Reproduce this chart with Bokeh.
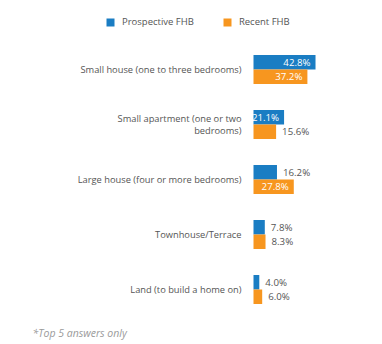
from bokeh.plotting import figure
from bokeh.models import ColumnDataSource, Range1d, Legend, LegendItem, Label
from bokeh.core.properties import value
from bokeh.embed import file_html
from bokeh.resources import INLINE

categories = [
    "Small house (one to three bedrooms)",
    "Small apartment (one or two\nbedrooms)",
    "Large house (four or more bedrooms)",
    "Townhouse/Terrace",
    "Land (to build a home on)",
]
prospective = [42.8, 21.1, 16.2, 7.8, 4.0]
recent = [37.2, 15.6, 27.8, 8.3, 6.0]
series_names = ["Prospective FHB", "Recent FHB"]
footnote = "*Top 5 answers only"

BLUE = "#1a7dc3"
ORANGE = "#f7961f"
GREY = "#555555"
FONT = "Open Sans"

W, H = 382, 344
x0_px = 253.0
px_per_unit = 1.449
unit_px = 55.0
top_center_px = 69.0

x_range = Range1d(-x0_px / px_per_unit, (W - x0_px) / px_per_unit)
y_range = Range1d((H - top_center_px) / unit_px, -top_center_px / unit_px)

p = figure(width=W, height=H, x_range=x_range, y_range=y_range,
           output_backend="svg", toolbar_location=None, min_border=0,
           outline_line_color=None)
p.axis.visible = False
p.grid.visible = False
p.background_fill_color = "white"
p.border_fill_color = "white"

bh = 14.5 / unit_px
idx = list(range(len(categories)))
src_b = ColumnDataSource(dict(y=[i - bh / 2 for i in idx], v=prospective))
src_o = ColumnDataSource(dict(y=[i + bh / 2 for i in idx], v=recent))
rb = p.hbar(y="y", left=0, right="v", height=bh, source=src_b, fill_color=BLUE, line_color=None)
ro = p.hbar(y="y", left=0, right="v", height=bh, source=src_o, fill_color=ORANGE, line_color=None)

# category labels
p.text(x=[-12 / px_per_unit] * len(idx), y=idx, text=categories,
       text_align="right", text_baseline="middle", text_font=value(FONT),
       text_font_size="9.3px", text_color=GREY, text_line_height=0.95)

# value labels
threshold = 20
for vals, ys in ((prospective, src_b.data["y"]), (recent, src_o.data["y"])):
    ins = [(v, y) for v, y in zip(vals, ys) if v > threshold]
    out = [(v, y) for v, y in zip(vals, ys) if v <= threshold]
    if ins:
        p.text(x=[v for v, _ in ins], y=[y for _, y in ins],
               text=[f"{v:.1f}%" for v, _ in ins], x_offset=-5,
               text_align="right", text_baseline="middle", text_font=value(FONT),
               text_font_size="9.7px", text_color="white")
    if out:
        p.text(x=[v for v, _ in out], y=[y for _, y in out],
               text=[f"{v:.1f}%" for v, _ in out], x_offset=6,
               text_align="left", text_baseline="middle", text_font=value(FONT),
               text_font_size="9.7px", text_color=GREY)

legend = Legend(items=[LegendItem(label=series_names[0], renderers=[rb]),
                       LegendItem(label=series_names[1], renderers=[ro])],
                orientation="horizontal", location=(105, H - 28),
                glyph_width=10, glyph_height=10, label_height=10,
                label_standoff=7, spacing=28, padding=0, margin=0,
                border_line_color=None, background_fill_alpha=0,
                label_text_font=FONT, label_text_font_size="9.5px",
                label_text_color=GREY, label_text_baseline="middle")
p.add_layout(legend, "center")

p.add_layout(Label(x=32, y=H - 332, x_units="screen", y_units="screen",
                   text=footnote, text_font=FONT, text_font_size="10.5px",
                   text_font_style="italic", text_color="#9a9a9a",
                   text_baseline="middle"))

open("out.html", "w").write(file_html(p, INLINE))
